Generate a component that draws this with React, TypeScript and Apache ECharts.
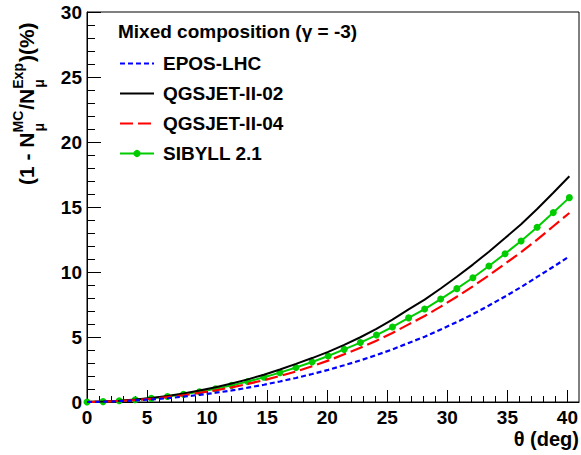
import React, { useEffect, useRef } from "react";
import * as echarts from "echarts";

const thetaDeg = [0, 1.33, 2.67, 4, 5.33, 6.67, 8, 9.33, 10.67, 12, 13.33, 14.67, 16, 17.33, 18.67, 20, 21.33, 22.67, 24, 25.33, 26.67, 28, 29.33, 30.67, 32, 33.33, 34.67, 36, 37.33, 38.67, 40];
const sibyll21 = [0, 0.03, 0.09, 0.17, 0.28, 0.42, 0.59, 0.79, 1.02, 1.28, 1.57, 1.9, 2.26, 2.65, 3.08, 3.54, 4.05, 4.57, 5.15, 5.77, 6.47, 7.15, 7.92, 8.72, 9.56, 10.46, 11.41, 12.38, 13.44, 14.57, 15.72];
const qgsjet02 = [0, 0.03, 0.1, 0.19, 0.31, 0.47, 0.66, 0.88, 1.13, 1.42, 1.74, 2.1, 2.5, 2.93, 3.38, 3.86, 4.4, 4.98, 5.62, 6.33, 7.12, 7.88, 8.73, 9.63, 10.57, 11.56, 12.61, 13.68, 14.85, 16.1, 17.36];
const qgsjet04 = [0, 0.03, 0.08, 0.15, 0.25, 0.37, 0.52, 0.7, 0.9, 1.13, 1.39, 1.68, 2.0, 2.35, 2.75, 3.18, 3.67, 4.17, 4.72, 5.31, 5.97, 6.61, 7.34, 8.1, 8.9, 9.74, 10.63, 11.53, 12.49, 13.52, 14.54];
const eposLhc = [0, 0.02, 0.06, 0.12, 0.2, 0.29, 0.41, 0.55, 0.71, 0.89, 1.1, 1.33, 1.58, 1.85, 2.15, 2.47, 2.83, 3.2, 3.61, 4.05, 4.54, 5.02, 5.57, 6.15, 6.76, 7.42, 8.12, 8.84, 9.62, 10.4, 11.2];

const seriesNames = ["EPOS-LHC", "QGSJET-II-02", "QGSJET-II-04", "SIBYLL 2.1"];
const legendTitle = "Mixed composition (\u03b3 = -3)";
const xTitle = "\u03b8 (deg)";

const FONT = '"Liberation Sans", Arial, Helvetica, sans-serif';

function textWidth(s: string, size: number): number {
  const c = document.createElement("canvas").getContext("2d");
  if (!c) return s.length * size * 0.6;
  c.font = `bold ${size}px ${FONT}`;
  return c.measureText(s).width;
}

function pairs(ys: number[]) {
  return thetaDeg.map((x, i) => [x, ys[i]]);
}

function yTitleGroup() {
  const big = 21;
  const small = 14;
  const subY = 13;
  const supY = -8;
  const parts: any[] = [];
  let x = 0;
  const add = (t: string, size: number, y: number, xx: number) => {
    parts.push({
      type: "text",
      x: xx,
      y,
      style: { text: t, font: `bold ${size}px ${FONT}`, fill: "#000", align: "left", verticalAlign: "middle" },
    });
  };
  add("(1 - N", big, 0, x);
  x += textWidth("(1 - N", big);
  add("\u03bc", small, subY, x + 1);
  add("MC", small, supY, x);
  x += Math.max(textWidth("MC", small), textWidth("\u03bc", small)) + 1;
  add("/N", big, 0, x);
  x += textWidth("/N", big);
  add("\u03bc", small, subY, x + 1);
  add("Exp", small, supY, x);
  x += Math.max(textWidth("Exp", small), textWidth("\u03bc", small)) + 1;
  add(")(%)", big, 0, x);
  return { type: "group", x: 26, y: 185, rotation: Math.PI / 2, children: parts };
}

export default function App() {
  const ref = useRef<HTMLDivElement>(null);
  useEffect(() => {
    if (!ref.current) return;
    const chart = echarts.init(ref.current, undefined, { renderer: "svg" });
    const gridLeft = 87;
    const gridRight = 2;
    const xMaxFrame = 40.8;
    const plotW = 581 - gridLeft - gridRight;
    const w40 = (plotW * 40) / xMaxFrame;
    const labelStyle = { fontFamily: FONT, fontWeight: "bold" as const, fontSize: 19, color: "#000" };
    chart.setOption({
      animation: false,
      backgroundColor: "#fff",
      grid: [
        { left: gridLeft, right: gridRight, top: 12, bottom: 53, show: true, borderColor: "#000", borderWidth: 1, backgroundColor: "transparent" },
        { left: gridLeft, width: w40, top: 12, bottom: 53, show: false },
      ],
      xAxis: [
        {
          type: "value", gridIndex: 0, min: 0, max: xMaxFrame,
          axisLine: { show: true, lineStyle: { color: "#000", width: 1 } },
          axisTick: { show: false }, axisLabel: { show: false }, splitLine: { show: false },
        },
        {
          type: "value", gridIndex: 1, min: 0, max: 40, interval: 5,
          axisLine: { show: false },
          axisTick: { show: true, inside: true, length: 12, lineStyle: { color: "#000", width: 1 } },
          minorTick: { show: true, splitNumber: 5, length: 6, lineStyle: { color: "#000", width: 1 } },
          axisLabel: { ...labelStyle, margin: 6 },
          splitLine: { show: false },
        },
      ],
      yAxis: [
        {
          type: "value", gridIndex: 0, min: 0, max: 30, interval: 5,
          axisLine: { show: true, lineStyle: { color: "#000", width: 1 } },
          axisTick: { show: true, inside: true, length: 14, lineStyle: { color: "#000", width: 1 } },
          minorTick: { show: true, splitNumber: 5, length: 8, lineStyle: { color: "#000", width: 1 } },
          axisLabel: { ...labelStyle, margin: 5 },
          splitLine: { show: false },
        },
        { type: "value", gridIndex: 1, min: 0, max: 30, show: false },
      ],
      legend: {
        data: [
          { name: seriesNames[0], itemStyle: { opacity: 0 } },
          { name: seriesNames[1], itemStyle: { opacity: 0 } },
          { name: seriesNames[2], itemStyle: { opacity: 0 } },
          { name: seriesNames[3] },
        ],
        orient: "vertical",
        left: 119,
        top: 54,
        padding: 0,
        itemWidth: 34,
        itemHeight: 9,
        itemGap: 11,
        selectedMode: false,
        textStyle: { ...labelStyle, padding: [0, 0, 0, 4] },
      },
      graphic: [
        {
          type: "text", left: 118, top: 22,
          style: { text: legendTitle, font: `bold 19px ${FONT}`, fill: "#000" },
        },
        {
          type: "text", x: 579, y: 439,
          style: { text: xTitle, font: `bold 20px ${FONT}`, fill: "#000", align: "right", verticalAlign: "middle" },
        },
        yTitleGroup(),
      ],
      series: [
        {
          name: "SIBYLL 2.1", type: "line", xAxisIndex: 0, yAxisIndex: 0, data: pairs(sibyll21),
          symbol: "circle", symbolSize: 7, showSymbol: true,
          lineStyle: { color: "#00cc00", width: 2 }, itemStyle: { color: "#00cc00" }, z: 2,
        },
        {
          name: "QGSJET-II-02", type: "line", xAxisIndex: 0, yAxisIndex: 0, data: pairs(qgsjet02),
          symbol: "none", lineStyle: { color: "#000", width: 2 }, itemStyle: { color: "#000" }, z: 3,
        },
        {
          name: "QGSJET-II-04", type: "line", xAxisIndex: 0, yAxisIndex: 0, data: pairs(qgsjet04),
          symbol: "none", lineStyle: { color: "#ff0000", width: 2.2, type: [13, 5] }, itemStyle: { color: "#ff0000" }, z: 4,
        },
        {
          name: "EPOS-LHC", type: "line", xAxisIndex: 0, yAxisIndex: 0, data: pairs(eposLhc),
          symbol: "none", lineStyle: { color: "#0000ff", width: 2.2, type: [5, 3] }, itemStyle: { color: "#0000ff" }, z: 5,
        },
      ],
    });
    return () => chart.dispose();
  }, []);
  return <div ref={ref} style={{ width: 581, height: 455, position: "fixed", left: 0, top: 0 }} />;
}
